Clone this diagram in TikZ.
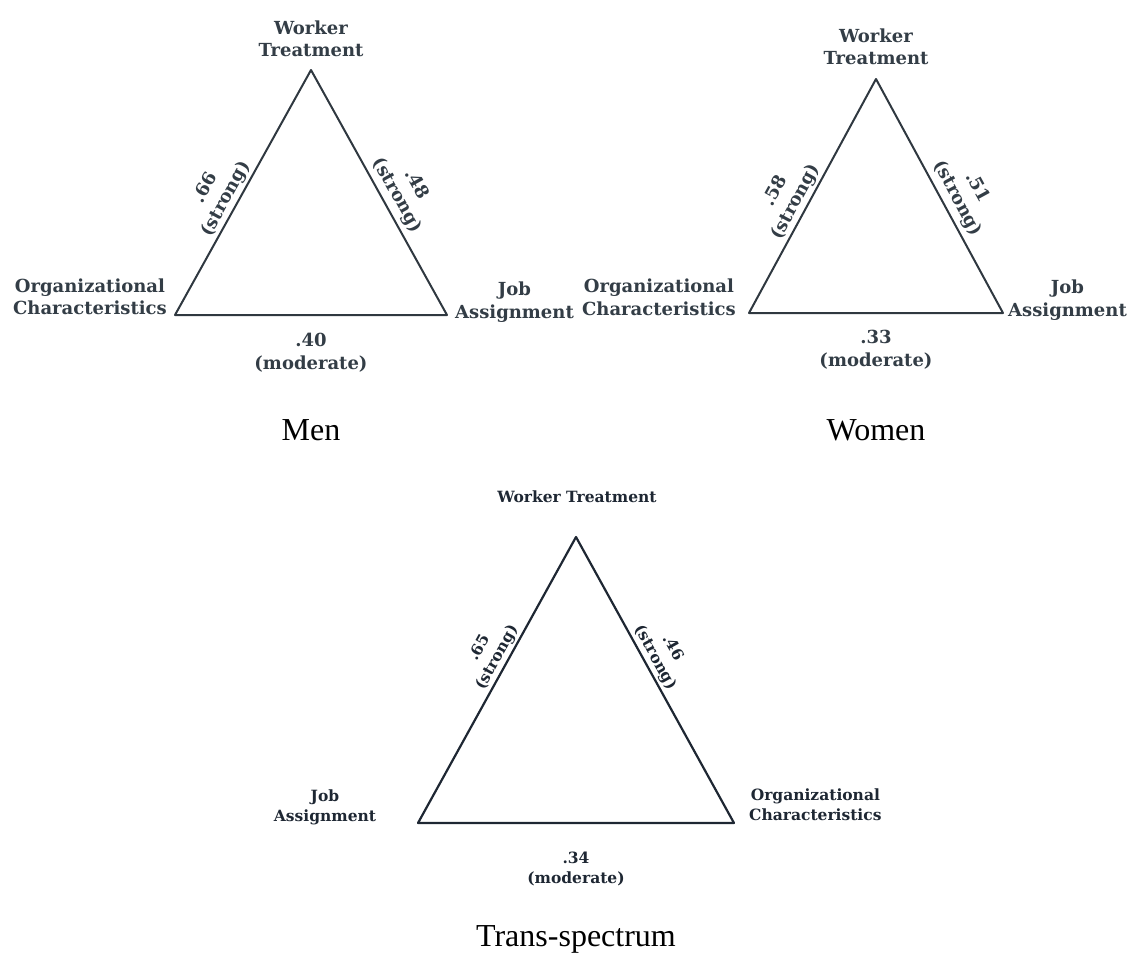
\documentclass[tikz,border=0pt]{standalone}
\usepackage{fontspec}
\setmainfont{Liberation Serif}
\newfontfamily\slabfont{DejaVu Serif}
\definecolor{ink}{HTML}{333D46}
\definecolor{edgeink}{HTML}{2F3840}
\definecolor{deepink}{HTML}{1E2733}
\begin{document}
\begin{tikzpicture}[x=1pt,y=-1pt,
  tri/.style={draw=edgeink, line width=2pt, line join=round},
  ttri/.style={draw=deepink, line width=2.2pt, line join=round},
  lbl/.style={font=\slabfont\bfseries\fontsize{18}{22.5}\selectfont, text=ink, inner sep=0pt, align=center},
  tlbl/.style={font=\slabfont\bfseries\fontsize{15.5}{20}\selectfont, text=deepink, inner sep=0pt, align=center},
  elbl/.style={lbl, sloped, anchor=south, inner sep=2pt},
  erlbl/.style={lbl, sloped, anchor=south, inner sep=4.5pt},
  telbl/.style={tlbl, sloped, anchor=south, inner sep=2pt},
  caption/.style={font=\fontsize{32}{36}\selectfont, anchor=base, inner sep=0pt}
]
\useasboundingbox (0,0) rectangle (1128,964);

% ---- Men ----
\coordinate (mT) at (311,70);
\coordinate (mL) at (175,315);
\coordinate (mR) at (447,315);
\draw[tri] (mL) -- node[elbl, pos=0.45] (m66) {.66\\(strong)} (mT)
  -- node[erlbl, pos=0.54] (m48) {.48\\(strong)} (mR) -- cycle;
\node[lbl, anchor=south] (mWT) at (311,57) {Worker\\Treatment};
\node[lbl, anchor=east] (mOC) at (167,297) {Organizational\\Characteristics};
\node[lbl, anchor=west] (mJA) at (455,302) {Job\\Assignment};
\node[lbl, anchor=north] (m40) at (311,333) {.40\\(moderate)};
\node[caption] (mCap) at (311,440) {Men};

% ---- Women ----
\coordinate (wT) at (876,79);
\coordinate (wL) at (749,313);
\coordinate (wR) at (1003,313);
\draw[tri] (wL) -- node[elbl, pos=0.45] (w58) {.58\\(strong)} (wT)
  -- node[erlbl, pos=0.54] (w51) {.51\\(strong)} (wR) -- cycle;
\node[lbl, anchor=south] (wWT) at (876,65) {Worker\\Treatment};
\node[lbl, anchor=east] (wOC) at (736,297.5) {Organizational\\Characteristics};
\node[lbl, anchor=west] (wJA) at (1008,300) {Job\\Assignment};
\node[lbl, anchor=north] (w33) at (876,330) {.33\\(moderate)};
\node[caption] (wCap) at (876,440) {Women};

% ---- Trans-spectrum ----
\coordinate (tT) at (576,537);
\coordinate (tL) at (418,823);
\coordinate (tR) at (734,823);
\draw[ttri] (tL) -- node[telbl, pos=0.56] (t65) {.65\\(strong)} (tT)
  -- node[telbl, pos=0.44] (t46) {.46\\(strong)} (tR) -- cycle;
\node[tlbl, anchor=south] (tWT) at (577,503) {Worker Treatment};
\node[tlbl] (tJA) at (325,807) {Job\\Assignment};
\node[tlbl, anchor=west] (tOC) at (749,805) {Organizational\\Characteristics};
\node[tlbl, anchor=north] (t34) at (576,852) {.34\\(moderate)};
\node[caption] (tCap) at (576,946) {Trans-spectrum};
\end{tikzpicture}
\end{document}
